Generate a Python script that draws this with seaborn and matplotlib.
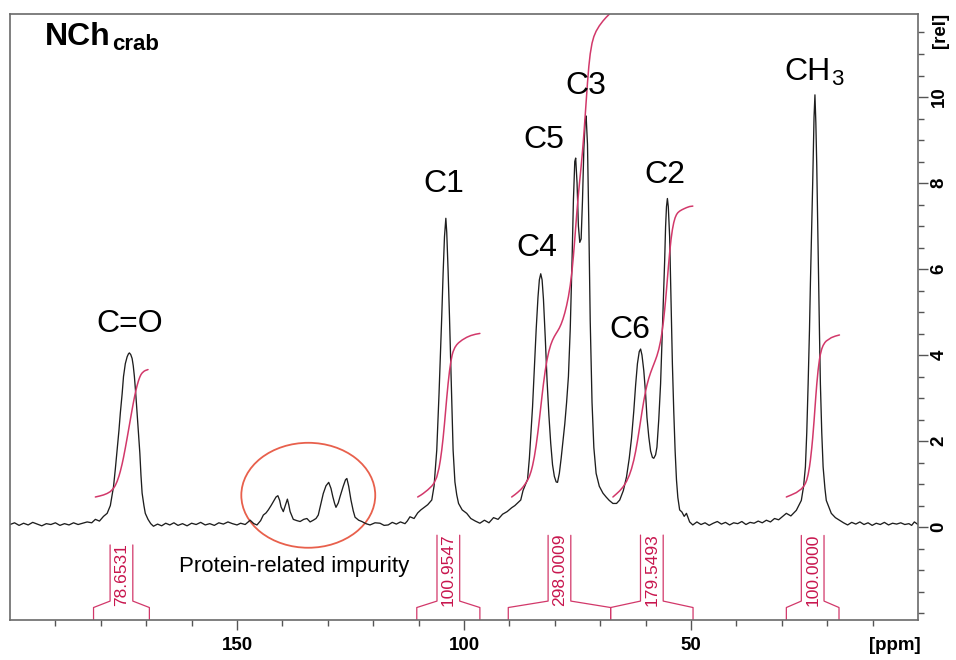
import numpy as np
import pandas as pd
import matplotlib
matplotlib.use("Agg")
import matplotlib.pyplot as plt
import seaborn as sns
from matplotlib.patches import Ellipse
from matplotlib.ticker import FixedLocator

# ---------------- traced spectrum (ppm, relative intensity) ----------------
base_left_ppm = [200, 199, 198, 197, 196, 195, 194, 193, 192, 191, 190, 189, 188, 187, 186, 185, 184, 183, 182]
base_left_int = [0.06, 0.10, 0.04, 0.09, 0.05, 0.11, 0.07, 0.03, 0.08, 0.06, 0.10, 0.04, 0.08, 0.05, 0.10, 0.06, 0.09, 0.12, 0.10]

co_ppm = [181.2, 180.3, 179.4, 178.6, 177.9, 177.2, 176.8, 176.4, 176.0, 175.7, 175.3, 175.0, 174.6, 174.2, 173.9,
          173.7, 173.4, 173.1, 172.85, 172.6, 172.3, 172.0, 171.7, 171.4, 171.15, 170.9, 170.5, 170.2, 169.6, 169.0, 168.4]
co_int = [0.18, 0.14, 0.25, 0.32, 0.50, 0.94, 1.35, 1.79, 2.25, 2.65, 3.10, 3.50, 3.80, 3.96, 4.03,
          4.05, 4.01, 3.92, 3.75, 3.50, 3.10, 2.65, 2.20, 1.72, 1.20, 0.79, 0.50, 0.32, 0.18, 0.08, 0.02]

mid_ppm = [167.5, 166.6, 165.7, 164.8, 163.9, 163, 162, 161, 160, 159, 158, 157, 156, 155, 154, 153, 152, 151, 150,
           149.2, 148.2, 147.1, 146.3]
mid_int = [0.07, 0.03, 0.09, 0.05, 0.10, 0.04, 0.08, 0.03, 0.09, 0.06, 0.11, 0.05, 0.08, 0.04, 0.10, 0.07, 0.12, 0.08,
           0.05, 0.09, 0.06, 0.16, 0.08]

imp_ppm = [145.6, 144.8, 144.2, 143.6, 143.1, 142.5, 142.0, 141.4, 141.0, 140.6, 140.3, 139.8, 139.3, 138.9, 138.6,
           138.3, 137.6, 136.8, 136.1, 135.3, 134.6, 133.9, 133.2, 132.6, 132.1, 131.5, 131.0, 130.4, 129.8, 129.3,
           128.9, 128.5, 128.2, 127.7, 127.3, 126.6, 126.1, 125.8, 125.4, 124.9, 124.4, 124.0, 123.2, 122.5, 121.6, 120.7]
imp_int = [0.05, 0.15, 0.28, 0.33, 0.40, 0.50, 0.59, 0.70, 0.73, 0.62, 0.47, 0.36, 0.52, 0.65, 0.52,
           0.36, 0.18, 0.15, 0.13, 0.18, 0.20, 0.12, 0.16, 0.20, 0.28, 0.55, 0.78, 0.96, 1.04, 0.90,
           0.71, 0.55, 0.46, 0.56, 0.71, 0.95, 1.10, 1.13, 0.95, 0.63, 0.38, 0.23, 0.16, 0.13, 0.08, 0.05]

gap_ppm = [119.6, 118.5, 117.6, 116.7, 115.8, 114.9, 114, 113, 112.5, 111.9, 111.0, 110.2, 109.5, 109.0, 108.0, 107.1]
gap_int = [0.10, 0.09, 0.04, 0.05, 0.11, 0.07, 0.12, 0.08, 0.14, 0.24, 0.20, 0.33, 0.40, 0.44, 0.52, 0.63]

c1_ppm = [106.6, 106.0, 105.5, 105.2, 104.9, 104.6, 104.3, 104.0, 103.8, 103.5, 103.2, 102.9, 102.6, 102.4, 102.0,
          101.6, 101.2, 100.4, 99.4, 98.5, 97.5, 96.5]
c1_int = [0.95, 1.79, 3.10, 4.00, 4.90, 5.90, 6.75, 7.18, 6.85, 5.95, 4.90, 3.70, 2.50, 1.79, 1.05,
          0.75, 0.55, 0.40, 0.32, 0.20, 0.14, 0.09]

c345_ppm = [95.5, 94.5, 93.5, 92.5, 91.5, 90.5, 89.5, 88.8, 88.2, 87.5, 87.0, 86.5, 86.0, 85.6, 85.2, 84.9, 84.5, 84.1,
            83.7, 83.4, 83.1, 82.8, 82.5, 82.1, 81.7, 81.3, 80.9, 80.5, 80.1, 79.7, 79.4, 79.0, 78.6, 78.2, 77.8,
            77.4, 77.0, 76.6, 76.2, 75.9, 75.6, 75.4, 75.1, 74.8, 74.5, 74.2, 73.9, 73.6, 73.3, 73.1, 72.8, 72.5,
            72.2, 71.8, 71.4, 70.9, 70.2, 69.4, 68.7]
c345_int = [0.16, 0.10, 0.22, 0.18, 0.30, 0.36, 0.45, 0.50, 0.56, 0.63, 0.85, 0.98, 1.11, 1.60, 2.30, 2.80, 3.70, 4.60,
            5.35, 5.75, 5.89, 5.75, 5.30, 4.40, 3.40, 2.60, 1.95, 1.45, 1.18, 1.05, 1.04, 1.25, 1.60, 2.00, 2.40,
            2.90, 3.50, 4.60, 6.20, 7.60, 8.50, 8.58, 8.00, 7.00, 6.62, 6.70, 7.60, 8.80, 9.45, 9.56, 8.90, 7.00,
            4.80, 2.90, 1.85, 1.25, 0.95, 0.79, 0.70]

c62_ppm = [68.0, 67.2, 66.4, 65.7, 64.9, 64.2, 63.6, 63.1, 62.6, 62.2, 61.8, 61.4, 61.1, 60.8, 60.4, 60.0, 59.7, 59.3,
           58.9, 58.5, 58.2, 57.8, 57.5, 57.1, 56.7, 56.4, 56.1, 55.8, 55.6, 55.4, 55.2, 55.0, 54.7, 54.4, 54.1,
           53.8, 53.5, 53.2, 52.9, 52.5, 52.0, 51.5, 51.0, 50.3, 49.6]
c62_int = [0.62, 0.55, 0.55, 0.63, 0.85, 1.17, 1.60, 2.07, 2.70, 3.30, 3.80, 4.08, 4.14, 4.00, 3.64, 3.10, 2.55, 2.10,
           1.77, 1.62, 1.60, 1.68, 1.86, 2.50, 3.33, 4.30, 5.27, 6.20, 6.98, 7.45, 7.64, 7.45, 6.74, 5.30, 3.80,
           2.70, 1.78, 1.10, 0.69, 0.40, 0.35, 0.25, 0.32, 0.12, 0.05]

gap2_ppm = [48.7, 47.8, 46.9, 46.0, 45.1, 44.2, 43.3, 42.4, 41.5, 40.6, 39.7, 38.8, 37.9, 37.0, 36.1, 35.2, 34.3, 33.4,
            32.5, 31.6, 30.7, 29.8]
gap2_int = [0.12, 0.06, 0.10, 0.04, 0.09, 0.13, 0.07, 0.11, 0.05, 0.10, 0.08, 0.13, 0.06, 0.11, 0.09, 0.14, 0.10, 0.16,
            0.12, 0.20, 0.17, 0.25]

ch3_ppm = [29.0, 28.0, 26.8, 25.7, 25.2, 24.8, 24.5, 24.2, 23.9, 23.7, 23.4, 23.2, 22.9, 22.7, 22.5, 22.3, 22.0, 21.7,
           21.5, 21.2, 20.9, 20.5, 20.2, 19.1, 18.2, 17.3]
ch3_int = [0.32, 0.26, 0.39, 0.62, 0.95, 1.40, 2.20, 3.33, 4.60, 5.66, 7.00, 7.98, 9.53, 10.05, 9.40, 8.40, 6.43, 4.50,
           3.33, 2.20, 1.40, 0.90, 0.62, 0.32, 0.22, 0.16]

base_right_ppm = [16.4, 15.5, 14.6, 13.7, 12.8, 11.9, 11.0, 10.1, 9.2, 8.3, 7.4, 6.5, 5.6, 4.7, 3.8, 2.9, 2.0, 1.4, 0.8, 0.0]
base_right_int = [0.10, 0.05, 0.11, 0.07, 0.12, 0.06, 0.10, 0.04, 0.09, 0.06, 0.11, 0.05, 0.09, 0.07, 0.10, 0.06,
                  0.08, 0.04, 0.12, 0.06]

# ---------------- integration regions and values ----------------
integral_left = [181.6, 110.4, 90.25, 67.7, 29.0]
integral_right = [169.3, 96.5, 67.7, 49.55, 17.4]
integral_values = ["78.6531", "100.9547", "298.0009", "179.5493", "100.0000"]

# ---------------- peak labels ----------------
peak_names = ["C=O", "C1", "C3", "C5", "C4", "C6", "C2"]
peak_label_ppm = [173.66, 104.55, 73.27, 82.4, 84.05, 63.4, 55.78]
peak_label_y = [4.53, 7.80, 10.06, 8.82, 6.30, 4.39, 7.99]

# ---------------- figure ----------------
sns.set_theme(style="white")
plt.rcParams["font.family"] = ["Liberation Sans", "DejaVu Sans"]
plt.rcParams["text.color"] = "black"
plt.rcParams["xtick.color"] = "black"
plt.rcParams["ytick.color"] = "black"

W, H = 956, 660
fig = plt.figure(figsize=(W / 100, H / 100), dpi=100)
ax = fig.add_axes([10 / W, 1 - 620 / H, 908 / W, 606 / H])

ppm = np.concatenate([base_left_ppm, co_ppm, mid_ppm, imp_ppm, gap_ppm, c1_ppm, c345_ppm, c62_ppm,
                      gap2_ppm, ch3_ppm, base_right_ppm]).astype(float)
inten = np.concatenate([base_left_int, co_int, mid_int, imp_int, gap_int, c1_int, c345_int, c62_int,
                        gap2_int, ch3_int, base_right_int]).astype(float)
spec = pd.DataFrame({"ppm": ppm, "intensity": inten})

sns.lineplot(data=spec, x="ppm", y="intensity", sort=False, estimator=None,
             color="#1e1e1e", lw=0.95, ax=ax, legend=False)

ax.set_xlim(200, 0)
ax.set_ylim(-2.16, 11.93)

int_color = "#D2386A"
lab_color = "#C8164E"
k_scale = 0.03767      # rel-units per integral unit
int_start = 0.70

label_texts = []
for hi, lo, val in zip(integral_left, integral_right, integral_values):
    m = (ppm <= hi + 1e-9) & (ppm >= lo - 0.15)
    p = ppm[m]
    v = inten[m]
    cum = np.concatenate([[0.0], np.cumsum(0.5 * (v[1:] + v[:-1]) * np.abs(np.diff(p)))])
    curve = int_start + cum / cum[-1] * float(val) * k_scale
    sns.lineplot(x=p, y=curve, sort=False, estimator=None, color=int_color, lw=1.1, ax=ax, legend=False)
    c = 0.5 * (hi + lo)
    t = ax.text(c, -1.83, val, rotation=90, ha="center", va="bottom", fontsize=12.5, color=lab_color)
    label_texts.append((t, hi, lo, c))

fig.canvas.draw()
inv = ax.transData.inverted()
for t, hi, lo, c in label_texts:
    bb = t.get_window_extent()
    top = inv.transform((0, bb.y1 - 2))[1]
    ax.plot([hi, hi, c + 2.5, c + 2.5], [-2.4, -1.87, -1.72, top], color=int_color, lw=0.9)
    ax.plot([lo, lo, c - 2.5, c - 2.5], [-2.4, -1.87, -1.72, top], color=int_color, lw=0.9)

# impurity marker
ax.add_patch(Ellipse((134.3, 0.74), width=29.5, height=2.44, fill=False, ec="#E8604C", lw=1.3))
ax.text(137.5, -1.04, "Protein-related impurity", fontsize=16, ha="center", va="baseline", color="black")

for name, xp, yp in zip(peak_names, peak_label_ppm, peak_label_y):
    ax.text(xp, yp, name, fontsize=23, ha="center", va="baseline", color="black")
ax.text(29.36, 10.40, "CH", fontsize=23, ha="left", va="baseline", color="black")
ax.text(19.2, 10.28, "3", fontsize=16, ha="left", va="baseline", color="black")

fig.text(45 / W, 1 - 45 / H, "NCh", fontsize=23, fontweight="bold", ha="left", va="baseline", color="black")
fig.text(112 / W, 1 - 50 / H, "crab", fontsize=16, fontweight="bold", ha="left", va="baseline", color="black")

# axes styling
for s in ax.spines.values():
    s.set_visible(True)
    s.set_color("#6a6a6a")
    s.set_linewidth(1.2)

ax.set_xlabel("")
ax.set_ylabel("")
ax.xaxis.set_major_locator(FixedLocator([150, 100, 50]))
ax.xaxis.set_minor_locator(FixedLocator([190, 180, 170, 160, 140, 130, 120, 110, 90, 80, 70, 60, 40, 30, 20, 10]))
ax.tick_params(axis="x", which="major", direction="out", length=7, width=1, color="#555555",
               pad=5, labelsize=13.5, bottom=True, top=False, labelcolor="black")
ax.tick_params(axis="x", which="minor", direction="out", length=4.5, width=1, color="#555555",
               bottom=True, top=False)
ax.yaxis.tick_right()
ax.yaxis.set_major_locator(FixedLocator([0, 2, 4, 6, 8, 10]))
ax.yaxis.set_minor_locator(FixedLocator([-2, -1.5, -1, -0.5, 0.5, 1, 1.5, 2.5, 3, 3.5, 4.5, 5, 5.5, 6.5, 7,
                                         7.5, 8.5, 9, 9.5, 10.5, 11, 11.5]))
ax.tick_params(axis="y", which="major", direction="out", length=7, width=1, color="#555555",
               pad=2, labelsize=13.5, right=True, left=False, labelrotation=90, labelcolor="black")
ax.tick_params(axis="y", which="minor", direction="out", length=4.5, width=1, color="#555555",
               right=True, left=False)
tick_family = ["Liberation Sans Narrow", "Liberation Sans", "DejaVu Sans"]
for lbl in ax.get_xticklabels() + ax.get_yticklabels():
    lbl.set_fontfamily(tick_family)
    lbl.set_fontweight("bold")
for lbl in ax.get_yticklabels():
    lbl.set_verticalalignment("center")

fig.text(895 / W, 1 - 645 / H, "[ppm]", fontsize=13.5, fontweight="bold", family=tick_family,
         ha="center", va="center", color="black")
fig.text(940 / W, 1 - 30 / H, "[rel]", fontsize=13.5, fontweight="bold", family=tick_family,
         ha="center", va="center", rotation=90, color="black")

fig.savefig("out.png", dpi=100, facecolor="white")
